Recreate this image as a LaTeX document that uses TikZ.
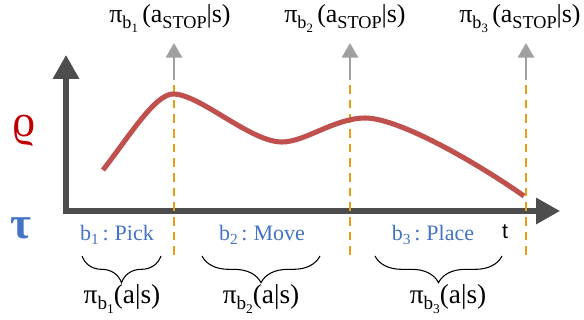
\documentclass[tikz,border=0pt]{standalone}
\usepackage{fontspec}
\usepackage{graphicx}
\setmainfont{Liberation Serif}
\newfontfamily\tfont{Liberation Sans}
\usetikzlibrary{arrows.meta,decorations.pathreplacing}
\definecolor{axisgray}{HTML}{4D4D4D}
\definecolor{curvered}{HTML}{C0504D}
\definecolor{rhored}{HTML}{C00000}
\definecolor{dashorange}{HTML}{E2A012}
\definecolor{arrowgray}{HTML}{A0A0A0}
\definecolor{labelblue}{HTML}{4472C4}
\newcommand{\sbs}[2][0.7]{\raisebox{-0.22em}{\scalebox{#1}{#2}}}
\begin{document}
\begin{tikzpicture}[x=0.75pt,y=-0.75pt,
  axis/.style={draw=axisgray,line width=4pt,line join=miter},
  stoparrow/.style={draw=arrowgray,line width=2.2pt,-{Triangle[length=11pt,width=12pt]}},
  boundary/.style={draw=dashorange,line width=2.2pt,dash pattern=on 6.5pt off 4.5pt},
  valcurve/.style={draw=curvered,line width=3.8pt,line cap=butt},
  toplabel/.style={font=\fontsize{19.5}{22}\selectfont,inner sep=0pt,anchor=base},
  blabel/.style={font=\fontsize{16.5}{18}\selectfont,text=labelblue,inner sep=0pt,anchor=base},
  bracelabel/.style={font=\fontsize{20.5}{22}\selectfont,inner sep=0pt,anchor=base},
  bracestyle/.style={draw=black,line width=0.8pt,decorate,decoration={brace,mirror,amplitude=20pt}}]
\useasboundingbox (0,0) rectangle (584,320);
% axes
\coordinate (ytop) at (66,55);
\coordinate (O) at (66,211);
\coordinate (xend) at (560,211);
\draw[axis,{Triangle[length=18pt,width=19pt]}-{Triangle[length=18pt,width=19pt]}] (ytop) -- (O) -- (xend);
% dashed boundaries and stop arrows
\foreach \n/\x in {1/174,2/350,3/526}{
  \coordinate (db\n) at (\x,85);
  \coordinate (de\n) at (\x,260);
  \coordinate (as\n) at (\x,80);
  \coordinate (ae\n) at (\x,43);
  \draw[boundary] (db\n) -- (de\n);
  \draw[stoparrow] (as\n) -- (ae\n);
}
% value curve
\coordinate (c0) at (103,170);
\coordinate (c1) at (173,94);
\coordinate (c2) at (282,142);
\coordinate (c3) at (365,118);
\coordinate (c4) at (524,196);
\draw[valcurve] (c0) .. controls (128,138) and (155,94) .. (c1)
  .. controls (200,94) and (250,142) .. (c2)
  .. controls (305,142) and (335,118) .. (c3)
  .. controls (400,118) and (480,165) .. (c4);
% axis labels
\node[text=rhored,font=\fontsize{34}{36}\selectfont,inner sep=0pt] (rho) at (24,131) {ϱ};
\node[text=labelblue,font=\fontsize{34}{36}\selectfont\bfseries,inner sep=0pt] (tau) at (21,228) {τ};
\node[font=\fontsize{16}{18}\selectfont\tfont,inner sep=0pt,anchor=base] (t) at (505,238) {t};
% top labels
\node[toplabel] (s1) at (170,23) {π\sbs{b\sbs{1}}\,(a\sbs{STOP}|s)};
\node[toplabel] (s2) at (345,23) {π\sbs{b\sbs{2}}\,(a\sbs{STOP}|s)};
\node[toplabel] (s3) at (520,23) {π\sbs{b\sbs{3}}\,(a\sbs{STOP}|s)};
% behaviour labels
\node[blabel] (b1) at (117,240) {b\sbs{1}\,:\;Pick};
\node[blabel] (b2) at (262,240) {b\sbs{2}\,:\;Move};
\node[blabel] (b3) at (433,240) {b\sbs{3}\,:\;Place};
% braces
\coordinate (bl1) at (82,256); \coordinate (br1) at (161,256);
\coordinate (bl2) at (202,256); \coordinate (br2) at (320,256);
\coordinate (bl3) at (375,256); \coordinate (br3) at (502,256);
\draw[bracestyle] (bl1) -- (br1);
\draw[bracestyle] (bl2) -- (br2);
\draw[bracestyle] (bl3) -- (br3);
\node[bracelabel] (p1) at (122,303) {π\sbs{b\sbs{1}}(a|s)};
\node[bracelabel] (p2) at (261,303) {π\sbs{b\sbs{2}}(a|s)};
\node[bracelabel] (p3) at (448,303) {π\sbs{b\sbs{3}}(a|s)};
\end{tikzpicture}
\end{document}
